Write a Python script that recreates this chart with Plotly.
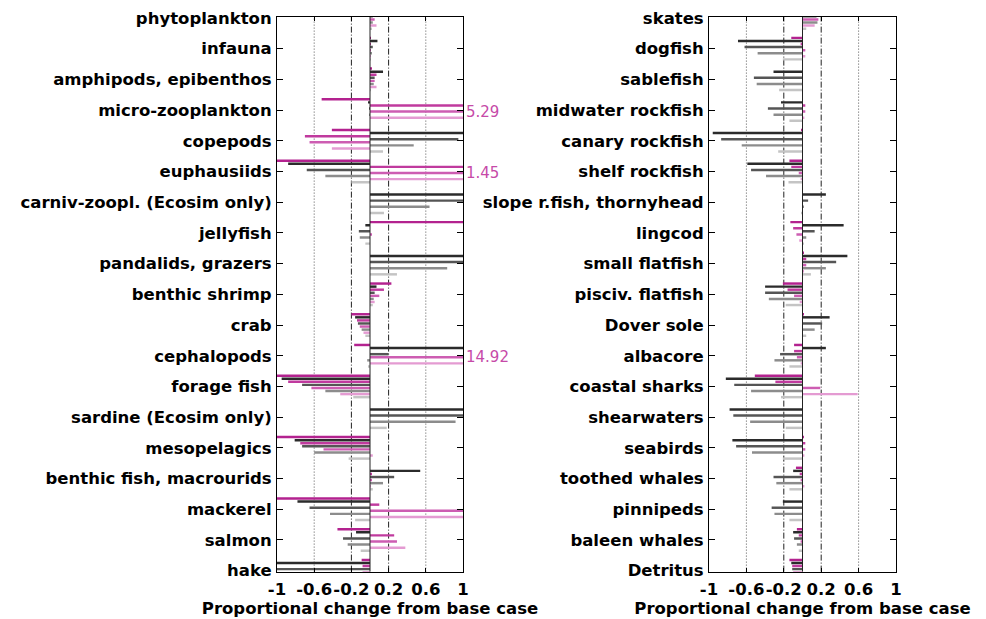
import plotly.graph_objects as go

# Functional groups, top to bottom
left_groups = [
    "phytoplankton", "infauna", "amphipods, epibenthos", "micro-zooplankton",
    "copepods", "euphausiids", "carniv-zoopl. (Ecosim only)", "jellyfish",
    "pandalids, grazers", "benthic shrimp", "crab", "cephalopods",
    "forage fish", "sardine (Ecosim only)", "mesopelagics",
    "benthic fish, macrourids", "mackerel", "salmon", "hake",
]
right_groups = [
    "skates", "dogfish", "sablefish", "midwater rockfish", "canary rockfish",
    "shelf rockfish", "slope r.fish, thornyhead", "lingcod", "small flatfish",
    "pisciv. flatfish", "Dover sole", "albacore", "coastal sharks",
    "shearwaters", "seabirds", "toothed whales", "pinnipeds",
    "baleen whales", "Detritus",
]

# Proportional change from base case, one list per scenario (8 scenarios)
left_m1 = [0.03, 0.01, 0.02, -0.52, -0.41, -1.05, 0.0, 1.2, 0.0, 0.23, -0.20, -0.17,
           -1.05, 0.0, -1.05, 0.0, -1.05, -0.35, -0.09]
left_g1 = [0.03, 0.08, 0.14, -0.02, 1.3, -0.88, 1.3, -0.05, 1.2, 0.07, -0.16, 1.5,
           -0.95, 1.2, -0.81, 0.54, -0.78, -0.15, -1.05]
left_m2 = [0.03, 0.01, 0.07, 1.8, -0.70, 1.3, 0.0, 0.0, 0.0, 0.15, -0.14, 0.0,
           -0.88, 0.0, -0.75, 0.02, 0.10, 0.26, -0.08]
left_g2 = [0.03, 0.03, 0.05, -0.01, 0.95, -0.68, 1.1, -0.12, 1.1, 0.05, -0.13, 0.20,
           -0.73, 1.1, -0.73, 0.26, -0.65, -0.29, -1.05]
left_m3 = [0.05, 0.01, 0.05, 5.29, -0.65, 1.45, 0.0, 0.02, 0.0, 0.10, -0.11, 14.92,
           -0.63, 0.0, -0.50, 0.02, 1.6, 0.29, -0.08]
left_g3 = [0.03, 0.02, 0.04, -0.01, 0.47, -0.48, 0.64, -0.11, 0.83, 0.04, -0.09, -0.03,
           -0.48, 0.92, -0.60, 0.14, -0.43, -0.24, -1.0]
left_m4 = [0.07, 0.01, 0.07, 1.6, -0.41, 1.2, 0.0, 0.0, 0.0, 0.05, -0.07, 1.3,
           -0.32, 0.0, 0.03, 0.01, 1.5, 0.38, -0.07]
left_g4 = [0.02, 0.01, 0.01, 0.0, 0.14, -0.20, 0.15, -0.05, 0.29, 0.03, -0.05, -0.02,
           -0.18, 0.18, -0.23, 0.03, -0.16, -0.10, -0.9]

right_m1 = [0.15, -0.12, 0.0, 0.0, -0.01, -0.14, 0.0, -0.13, 0.01, -0.21, 0.01, -0.09,
            -0.51, 0.0, 0.01, -0.07, 0.0, -0.06, -0.14]
right_g1 = [0.15, -0.69, -0.31, -0.23, -0.96, -0.59, 0.25, 0.44, 0.48, -0.40, 0.29, 0.25,
            -0.82, -0.78, -0.75, -0.10, -0.21, -0.10, -0.12]
right_m2 = [0.15, -0.02, 0.0, 0.03, 0.0, -0.12, 0.0, -0.10, 0.04, -0.16, 0.0, -0.09,
            -0.29, 0.0, 0.03, -0.03, 0.0, -0.04, -0.11]
right_g2 = [0.15, -0.62, -0.52, -0.37, -0.87, -0.55, 0.06, 0.13, 0.36, -0.40, 0.21, -0.24,
            -0.73, -0.74, -0.71, -0.31, -0.33, -0.09, -0.11]
right_m3 = [0.17, 0.03, 0.0, 0.03, 0.0, -0.04, 0.0, -0.065, 0.04, -0.09, 0.0, -0.06,
            0.19, 0.0, 0.03, -0.02, 0.0, -0.02, -0.10]
right_g3 = [0.16, -0.48, -0.49, -0.31, -0.65, -0.39, 0.01, 0.04, 0.25, -0.36, 0.13, -0.30,
            -0.55, -0.56, -0.54, -0.28, -0.30, -0.06, -0.10]
right_m4 = [0.13, 0.03, 0.0, 0.02, 0.0, -0.02, 0.0, -0.035, 0.015, -0.03, 0.0, -0.02,
            0.59, 0.0, 0.02, 0.02, 0.0, 0.0, -0.09]
right_g4 = [0.04, -0.21, -0.25, -0.14, -0.26, -0.15, -0.01, 0.01, 0.09, -0.18, 0.04, -0.14,
            -0.23, -0.18, -0.21, -0.14, -0.14, -0.04, -0.08]

# Labels for bars running off the right edge of the left panel (scenario 5)
clipped_labels = [(3, "5.29"), (5, "1.45"), (11, "14.92")]

xtick_vals = [-1, -0.6, -0.2, 0.2, 0.6, 1]
xtick_text = ["-1", "-0.6", "-0.2", "0.2", "0.6", "1"]

series_colors = ["#b3228f", "#2b2b2b", "#c03a9e", "#555555",
                 "#cd5db2", "#8c8c8c", "#e49bd2", "#c4c4c4"]

left_series = [left_m1, left_g1, left_m2, left_g2, left_m3, left_g3, left_m4, left_g4]
right_series = [right_m1, right_g1, right_m2, right_g2, right_m3, right_g3, right_m4, right_g4]

FONT = "DejaVu Sans, Verdana, sans-serif"

fig = go.Figure()
positions = list(range(len(left_groups)))

for vals, col in zip(left_series, series_colors):
    fig.add_trace(go.Bar(x=vals, y=positions, orientation="h", marker_color=col,
                         marker_line_width=0, xaxis="x", yaxis="y",
                         showlegend=False, hoverinfo="x"))
for vals, col in zip(right_series, series_colors):
    fig.add_trace(go.Bar(x=vals, y=positions, orientation="h", marker_color=col,
                         marker_line_width=0, xaxis="x2", yaxis="y2",
                         showlegend=False, hoverinfo="x"))

W, H = 986, 619
ytop, ybot = 17.0, 571.6
ydom = [1 - ybot / H, 1 - ytop / H]
n = len(left_groups)
yrange = [n - 1 + 0.03, -0.03]

xaxis_common = dict(
    range=[-1, 1], tickvals=xtick_vals, ticktext=xtick_text, automargin=False,
    ticks="inside", ticklen=4, tickcolor="black", showgrid=False, tickangle=0,
    zeroline=False, showline=True, linecolor="black", linewidth=1, mirror="ticks",
    ticklabelstandoff=3,
    tickfont=dict(family=FONT, size=16.5, color="black", weight="bold"),
    title=dict(text="<b>Proportional change from base case</b>",
               font=dict(family=FONT, size=16.5, color="black"), standoff=2),
)
yaxis_common = dict(
    range=yrange, tickvals=positions, ticks="inside", ticklen=6, tickcolor="black",
    showgrid=False, zeroline=False, showline=True, linecolor="black", linewidth=1,
    mirror="ticks", automargin=False, ticklabelstandoff=1,
    tickfont=dict(family=FONT, size=16.5, color="black", weight="bold"),
)

fig.update_layout(
    width=W, height=H, margin=dict(l=0, r=0, t=0, b=0),
    paper_bgcolor="white", plot_bgcolor="white",
    barmode="group", bargap=0.2, bargroupgap=0.2,
    xaxis=dict(domain=[277 / W, 463 / W], anchor="y", **xaxis_common),
    yaxis=dict(domain=ydom, anchor="x", ticktext=left_groups, **yaxis_common),
    xaxis2=dict(domain=[709 / W, 896 / W], anchor="y2", **xaxis_common),
    yaxis2=dict(domain=ydom, anchor="x2", ticktext=right_groups, **yaxis_common),
)

# Reference lines: dotted at +/-0.6, dash-dot at +/-0.2, solid baseline at 0
for xr, yr in (("x", "y"), ("x2", "y2")):
    for xv in (-0.6, 0.6):
        fig.add_shape(type="line", xref=xr, yref=yr + " domain", x0=xv, x1=xv, y0=0, y1=1,
                      line=dict(color="#555555", width=1, dash="1px,2px"), layer="below")
    for xv in (-0.2, 0.2):
        fig.add_shape(type="line", xref=xr, yref=yr + " domain", x0=xv, x1=xv, y0=0, y1=1,
                      line=dict(color="#222222", width=1, dash="6px,2px,1px,2px"), layer="below")
    fig.add_shape(type="line", xref=xr, yref=yr + " domain", x0=0, x1=0, y0=0, y1=1,
                  line=dict(color="#222222", width=1))

# offset of the 5th bar of a group (scenario index 4) from the group centre
bar_offset = (4 - 3.5) * 0.1
for idx, txt in clipped_labels:
    fig.add_annotation(x=1, y=idx + bar_offset, xref="x", yref="y", text=txt,
                       showarrow=False, xanchor="left", yanchor="middle", xshift=1,
                       font=dict(family=FONT, size=15, color="#c64aa8"))

fig.write_html("out.html")
